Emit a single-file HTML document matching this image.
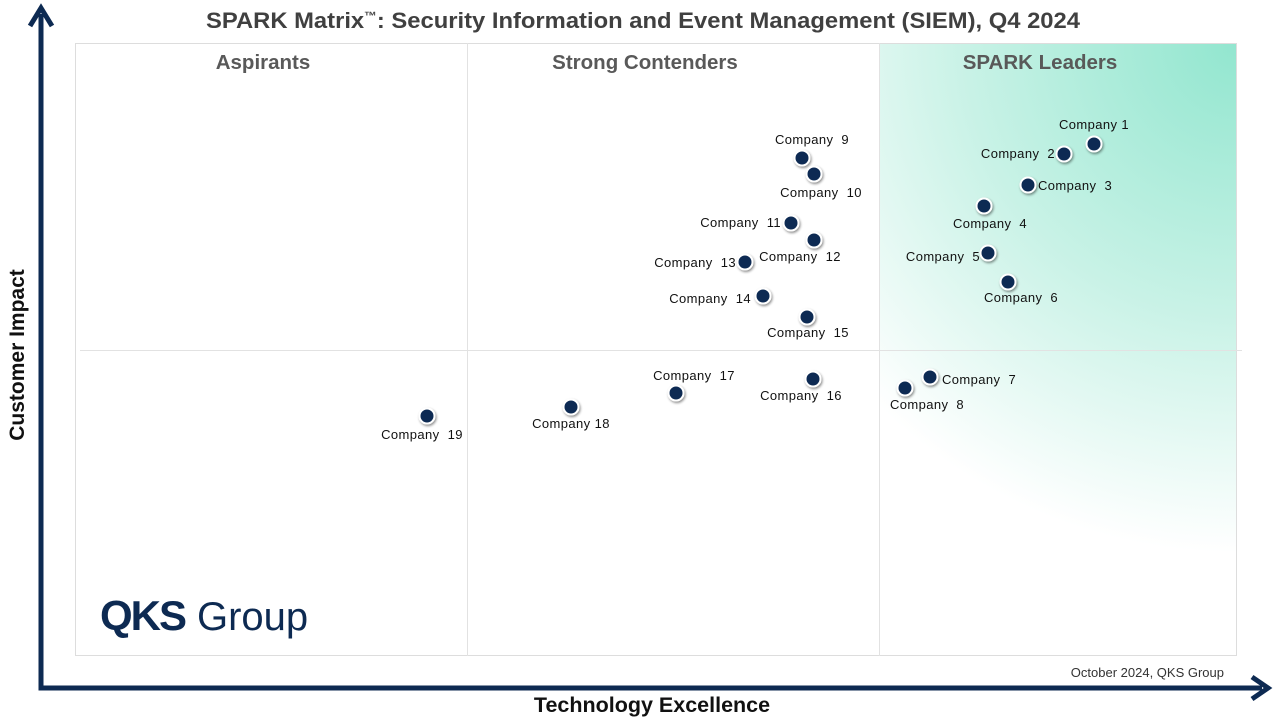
<!DOCTYPE html>
<html><head><meta charset="utf-8"><style>
html,body{margin:0;padding:0;background:#fff;}
svg{display:block;font-family:"Liberation Sans",Arial,sans-serif;}
.l{font-size:13px;fill:#111;white-space:pre;letter-spacing:0.4px;}
</style></head><body>
<svg width="1280" height="720" viewBox="0 0 1280 720" xml:space="preserve">
<defs>
<radialGradient id="g" cx="1237" cy="43" r="600" gradientUnits="userSpaceOnUse">
<stop offset="0" stop-color="#92e6cf"/>
<stop offset="0.45" stop-color="#c8f2e6"/>
<stop offset="0.85" stop-color="#ffffff"/>
</radialGradient>
<filter id="sh" x="-50%" y="-50%" width="200%" height="200%"><feDropShadow dx="1" dy="1.5" stdDeviation="1.2" flood-color="#000" flood-opacity="0.45"/></filter>
</defs>
<rect x="879" y="43" width="358" height="613" fill="url(#g)"/>
<rect x="75.5" y="43.5" width="1161" height="612" fill="none" stroke="#ddd"/>
<line x1="467.5" y1="43" x2="467.5" y2="656" stroke="#e2e2e2"/>
<line x1="879.5" y1="43" x2="879.5" y2="656" stroke="#e2e2e2"/>
<line x1="80" y1="350.5" x2="1242" y2="350.5" stroke="#e2e2e2"/>
<text x="206" y="28" textLength="874" lengthAdjust="spacingAndGlyphs" font-size="22.5" font-weight="bold" fill="#404040">SPARK Matrix<tspan font-size="12" dy="-8">™</tspan><tspan dy="8">: Security Information and Event Management (SIEM), Q4 2024</tspan></text>
<g font-size="20.5" font-weight="bold" fill="#595959" text-anchor="middle">
<text x="263" y="69">Aspirants</text>
<text x="645" y="69">Strong Contenders</text>
<text x="1040" y="69">SPARK Leaders</text>
</g>
<path d="M41,14 V688 H1262" fill="none" stroke="#0d2a52" stroke-width="5"/>
<path d="M30,26 L41,8 L52,26" fill="none" stroke="#0d2a52" stroke-width="5"/>
<path d="M1252,677 L1268,688 L1252,699" fill="none" stroke="#0d2a52" stroke-width="5"/>
<text x="652" y="712" text-anchor="middle" font-size="21.5" font-weight="bold" fill="#111">Technology Excellence</text>
<text transform="translate(24,355) rotate(-90)" text-anchor="middle" font-size="21" font-weight="bold" fill="#111">Customer Impact</text>
<text x="1224" y="677" text-anchor="end" font-size="13" fill="#333">October 2024, QKS Group</text>
<text x="100" y="630" font-size="42" font-weight="bold" fill="#0d2a52" letter-spacing="-2">QKS</text>
<text x="197" y="630" font-size="40" fill="#0d2a52">Group</text>
<g fill="#0d2a52" stroke="#fff" stroke-width="2" filter="url(#sh)">
<circle cx="1094" cy="144" r="7.5"/><circle cx="1064" cy="154" r="7.5"/><circle cx="1028" cy="185" r="7.5"/>
<circle cx="984" cy="206" r="7.5"/><circle cx="988" cy="253" r="7.5"/><circle cx="1008" cy="282" r="7.5"/>
<circle cx="930" cy="377" r="7.5"/><circle cx="905" cy="388" r="7.5"/><circle cx="802" cy="158" r="7.5"/>
<circle cx="814" cy="174" r="7.5"/><circle cx="791" cy="223" r="7.5"/><circle cx="814" cy="240" r="7.5"/>
<circle cx="745" cy="262" r="7.5"/><circle cx="763" cy="296" r="7.5"/><circle cx="807" cy="317" r="7.5"/>
<circle cx="813" cy="379" r="7.5"/><circle cx="676" cy="393" r="7.5"/><circle cx="571" cy="407" r="7.5"/>
<circle cx="427" cy="416" r="7.5"/>
</g>
<text class="l" x="1094" y="129" text-anchor="middle" font-size="14.5">Company 1</text>
<text class="l" x="1055" y="158" text-anchor="end">Company  2</text>
<text class="l" x="1038" y="190">Company  3</text>
<text class="l" x="990" y="228" text-anchor="middle">Company  4</text>
<text class="l" x="980" y="261" text-anchor="end">Company  5</text>
<text class="l" x="1021" y="302" text-anchor="middle">Company  6</text>
<text class="l" x="942" y="384">Company  7</text>
<text class="l" x="927" y="409" text-anchor="middle">Company  8</text>
<text class="l" x="812" y="144" text-anchor="middle">Company  9</text>
<text class="l" x="821" y="197" text-anchor="middle">Company  10</text>
<text class="l" x="781" y="227" text-anchor="end">Company  11</text>
<text class="l" x="800" y="261" text-anchor="middle">Company  12</text>
<text class="l" x="736" y="267" text-anchor="end">Company  13</text>
<text class="l" x="751" y="303" text-anchor="end">Company  14</text>
<text class="l" x="808" y="337" text-anchor="middle">Company  15</text>
<text class="l" x="801" y="400" text-anchor="middle">Company  16</text>
<text class="l" x="694" y="380" text-anchor="middle">Company  17</text>
<text class="l" x="571" y="428" text-anchor="middle">Company 18</text>
<text class="l" x="422" y="439" text-anchor="middle">Company  19</text>
</svg>
</body></html>
